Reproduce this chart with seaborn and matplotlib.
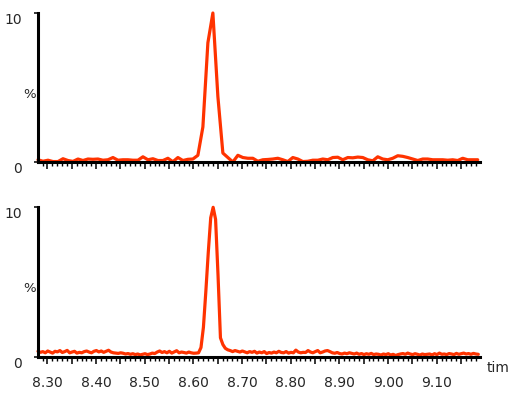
import numpy as np
import pandas as pd
import matplotlib
matplotlib.use("Agg")
import matplotlib.pyplot as plt
from matplotlib.ticker import MultipleLocator, FuncFormatter
import seaborn as sns

# ---- data ----
top_t0, top_dt = 8.2805, 0.01027
top_values = [
    0.15, 0.05, 0.12, 0.03, 0.03, 0.22, 0.10, 0.04, 0.20, 0.10,
    0.20, 0.18, 0.20, 0.12, 0.15, 0.30, 0.12, 0.15, 0.15, 0.12,
    0.12, 0.35, 0.15, 0.22, 0.10, 0.10, 0.25, 0.02, 0.30, 0.10,
    0.18, 0.20, 0.45, 2.35, 8.00, 10.0, 4.40, 0.60, 0.30, 0.00,
    0.45, 0.30, 0.25, 0.25, 0.05, 0.15, 0.17, 0.20, 0.25, 0.15,
    0.03, 0.30, 0.20, 0.03, 0.05, 0.12, 0.12, 0.20, 0.15, 0.30,
    0.32, 0.15, 0.30, 0.28, 0.33, 0.30, 0.15, 0.08, 0.35, 0.20,
    0.15, 0.25, 0.42, 0.38, 0.30, 0.20, 0.10, 0.20, 0.20, 0.15,
    0.15, 0.15, 0.12, 0.15, 0.10, 0.25, 0.15, 0.15, 0.15,
]

bot_t0, bot_dt = 8.2805, 0.005
bottom_values = [
    0.40, 0.33, 0.38, 0.30, 0.42, 0.35, 0.28, 0.40, 0.36, 0.45,
    0.32, 0.38, 0.46, 0.30, 0.35, 0.40, 0.28, 0.33, 0.30, 0.38,
    0.42, 0.35, 0.30, 0.40, 0.45, 0.36, 0.42, 0.33, 0.40, 0.47,
    0.35, 0.30, 0.28, 0.26, 0.30, 0.27, 0.22, 0.25, 0.20, 0.24,
    0.18, 0.22, 0.16, 0.20, 0.24, 0.18, 0.22, 0.28, 0.25, 0.35,
    0.42, 0.32, 0.38, 0.30, 0.40, 0.28, 0.36, 0.44, 0.30, 0.35,
    0.32, 0.28, 0.35, 0.30, 0.27, 0.28, 0.30, 0.65, 2.00, 4.40,
    7.00, 9.30, 10.0, 9.20, 5.50, 1.30, 0.85, 0.60, 0.50, 0.45,
    0.38, 0.45, 0.40, 0.35, 0.42, 0.36, 0.30, 0.38, 0.33, 0.40,
    0.28, 0.35, 0.30, 0.38, 0.25, 0.32, 0.28, 0.35, 0.30, 0.40,
    0.32, 0.30, 0.38, 0.28, 0.33, 0.30, 0.48, 0.35, 0.30, 0.33,
    0.32, 0.45, 0.35, 0.30, 0.38, 0.45, 0.30, 0.35, 0.42, 0.45,
    0.38, 0.30, 0.27, 0.32, 0.25, 0.22, 0.28, 0.24, 0.30, 0.26,
    0.22, 0.28, 0.20, 0.25, 0.18, 0.24, 0.20, 0.26, 0.18, 0.22,
    0.20, 0.15, 0.22, 0.18, 0.24, 0.15, 0.20, 0.12, 0.18, 0.22,
    0.25, 0.20, 0.28, 0.22, 0.18, 0.24, 0.20, 0.15, 0.22, 0.18,
    0.20, 0.22, 0.16, 0.24, 0.18, 0.28, 0.20, 0.22, 0.18, 0.25,
    0.22, 0.18, 0.26, 0.20, 0.24, 0.28, 0.22, 0.25, 0.20, 0.26,
    0.22, 0.20,
]

x_tick_labels = ["8.30", "8.40", "8.50", "8.60", "8.70", "8.80", "8.90", "9.00", "9.10"]
y_tick_labels = ["0", "10"]
x_axis_label = "tim"
y_axis_label = "%"

top_df = pd.DataFrame({"time": top_t0 + top_dt * np.arange(len(top_values)),
                       "pct": top_values})
bot_df = pd.DataFrame({"time": bot_t0 + bot_dt * np.arange(len(bottom_values)),
                       "pct": bottom_values})

# ---- style ----
sns.set_style("white")
plt.rcParams["font.family"] = ["DejaVu Sans"]

W, H = 515, 409
fig = plt.figure(figsize=(W / 100, H / 100), dpi=100)

x_left, x_right = 38, 480
ax_top = fig.add_axes([x_left / W, 1 - 162 / H, (x_right - x_left) / W, 149 / H])
ax_bot = fig.add_axes([x_left / W, 1 - 357.3 / H, (x_right - x_left) / W, 150 / H])

line_color = "#FF3300"
xlim = (8.2805, 9.189)

label_values = [float(s) for s in x_tick_labels]

def fmt(v, pos):
    for s, lv in zip(x_tick_labels, label_values):
        if abs(v - lv) < 1e-6:
            return s
    return ""

for ax, df, show_labels in ((ax_top, top_df, False), (ax_bot, bot_df, True)):
    sns.lineplot(data=df, x="time", y="pct", ax=ax, color=line_color,
                 linewidth=2.3, solid_joinstyle="round", clip_on=False)
    ax.set_xlim(*xlim)
    ax.set_ylim(0, 10)
    ax.set_xlabel("")
    ax.set_ylabel("")
    for s in ("top", "right"):
        ax.spines[s].set_visible(False)
    for s in ("left", "bottom"):
        ax.spines[s].set_linewidth(2.2)
        ax.spines[s].set_color("black")
    ax.xaxis.set_major_locator(MultipleLocator(0.05))
    ax.xaxis.set_minor_locator(MultipleLocator(0.01))
    ax.xaxis.set_major_formatter(FuncFormatter(fmt) if show_labels else FuncFormatter(lambda v, p: ""))
    ax.tick_params(axis="x", which="major", direction="out", length=5, width=1.1,
                   color="black", labelsize=10, pad=8.5, bottom=True)
    ax.tick_params(axis="x", which="minor", direction="out", length=2.6, width=1.0,
                   color="black", bottom=True)
    ax.set_yticks([0, 10])
    ax.set_yticklabels(y_tick_labels)
    ax.tick_params(axis="y", which="major", direction="out", length=3, width=1.1,
                   color="black", labelsize=10, pad=8.5, left=True)
    for lab in ax.get_yticklabels():
        lab.set_va("top")
    ax.text(-0.004, 5, y_axis_label, transform=ax.get_yaxis_transform(),
            ha="right", va="top", fontsize=9.5)
    ax.set_facecolor("white")

fig.text(487 / W, 1 - 368 / H, x_axis_label, ha="left", va="center", fontsize=10)

fig.savefig("out.png", dpi=100, facecolor="white")
